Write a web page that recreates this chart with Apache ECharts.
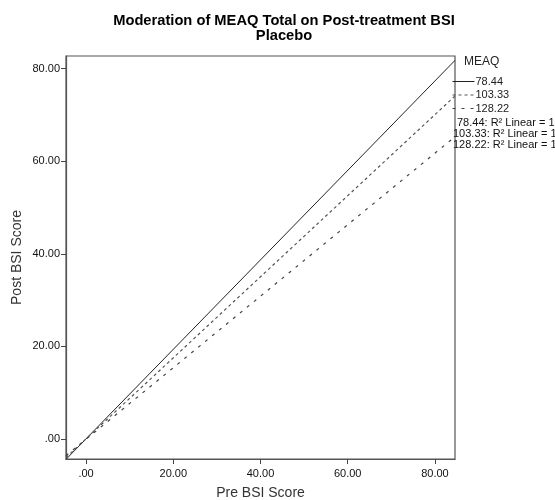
<!DOCTYPE html>
<html>
<head>
<meta charset="utf-8">
<script src="https://cdn.jsdelivr.net/npm/echarts@6/dist/echarts.min.js"></script>
<style>
  html, body { margin: 0; padding: 0; background: #fff; }
  #main { width: 555px; height: 500px; }
</style>
</head>
<body>
<div id="main"></div>
<script>
// pre BSI range of the fit lines (x) and fitted post BSI at both ends (y)
const preBSI = [-4.6, 84.6];
const post_7844 = [-4.4, 81.8];
const post_10333 = [-4.0, 74.1];
const post_12822 = [-3.6, 65.3];

const meaqLevels = ["78.44", "103.33", "128.22"];
const xTicks = [0, 20, 40, 60, 80];
const yTicks = [0, 20, 40, 60, 80];

const FONT = "Liberation Sans, Arial, sans-serif";

const fmt = (v) => (v === 0 ? ".00" : v.toFixed(2));
const pairs = (ys) => preBSI.map((x, i) => [x, ys[i]]);

const lineStyles = [
  { color: "#222", width: 1, type: "solid" },
  { color: "#555", width: 1.2, type: [3, 3] },
  { color: "#444", width: 1.2, type: [3, 6] },
];

const seriesData = [post_7844, post_10333, post_12822];

const option = {
  animation: false,
  textStyle: { fontFamily: FONT },
  title: [
    {
      text: "Moderation of MEAQ Total on Post-treatment BSI\nPlacebo",
      left: 284,
      textAlign: "center",
      top: 13,
      padding: 0,
      textStyle: {
        fontFamily: FONT,
        fontSize: 14.7,
        fontWeight: "bold",
        color: "#000",
        lineHeight: 15,
      },
    },
    {
      text: "MEAQ",
      left: 464,
      top: 56,
      padding: 0,
      textStyle: { fontFamily: FONT, fontSize: 12, fontWeight: "normal", color: "#222" },
    },
  ],
  legend: {
    orient: "vertical",
    left: 452,
    top: 76,
    itemWidth: 22,
    itemHeight: 8,
    itemGap: 2.5,
    padding: 0,
    itemStyle: { color: "transparent", borderWidth: 0, opacity: 0 },
    lineStyle: { width: 1 },
    textStyle: { fontFamily: FONT, fontSize: 11, color: "#222", padding: [0, 0, 0, -4] },
    data: meaqLevels,
  },
  grid: {
    left: 66,
    right: 100,
    top: 56,
    bottom: 41,
    outerBoundsMode: "none",
    containLabel: false,
    show: true,
    borderColor: "#555",
    borderWidth: 1.2,
  },
  xAxis: {
    type: "value",
    min: -4.6,
    max: 84.6,
    name: "Pre BSI Score",
    nameLocation: "middle",
    nameGap: 27,
    nameMoveOverlap: false,
    nameTextStyle: { fontFamily: FONT, fontSize: 14, color: "#333" },
    splitLine: { show: false },
    axisLine: { show: true, onZero: false, lineStyle: { color: "#555", width: 1.2 } },
    axisTick: { show: true, length: 5, customValues: xTicks, lineStyle: { color: "#444" } },
    axisLabel: {
      customValues: xTicks,
      formatter: fmt,
      fontFamily: FONT,
      fontSize: 11,
      color: "#111",
      margin: 9,
    },
  },
  yAxis: {
    type: "value",
    min: -4.32,
    max: 82.74,
    name: "Post BSI Score",
    nameLocation: "middle",
    nameGap: 42,
    nameMoveOverlap: false,
    nameTextStyle: { fontFamily: FONT, fontSize: 14, color: "#333" },
    splitLine: { show: false },
    axisLine: { show: true, onZero: false, lineStyle: { color: "#555", width: 1.2 } },
    axisTick: { show: true, length: 5, customValues: yTicks, lineStyle: { color: "#444" } },
    axisLabel: {
      customValues: yTicks,
      formatter: fmt,
      fontFamily: FONT,
      fontSize: 11,
      color: "#111",
      margin: 6,
    },
  },
  series: meaqLevels.map((name, i) => ({
    name,
    type: "line",
    symbol: "none",
    silent: true,
    lineStyle: lineStyles[i],
    itemStyle: { color: lineStyles[i].color },
    data: pairs(seriesData[i]),
  })),
  graphic: [
    { type: "text", left: 457, top: 117, style: { text: "78.44: R² Linear = 1", font: "11px " + FONT, fill: "#111" } },
    { type: "text", left: 453, top: 128, style: { text: "103.33: R² Linear = 1", font: "11px " + FONT, fill: "#111" } },
    { type: "text", left: 453, top: 139, style: { text: "128.22: R² Linear = 1", font: "11px " + FONT, fill: "#111" } },
  ],
};

const myChart = echarts.init(document.getElementById("main"));
myChart.setOption(option);
</script>
</body>
</html>
